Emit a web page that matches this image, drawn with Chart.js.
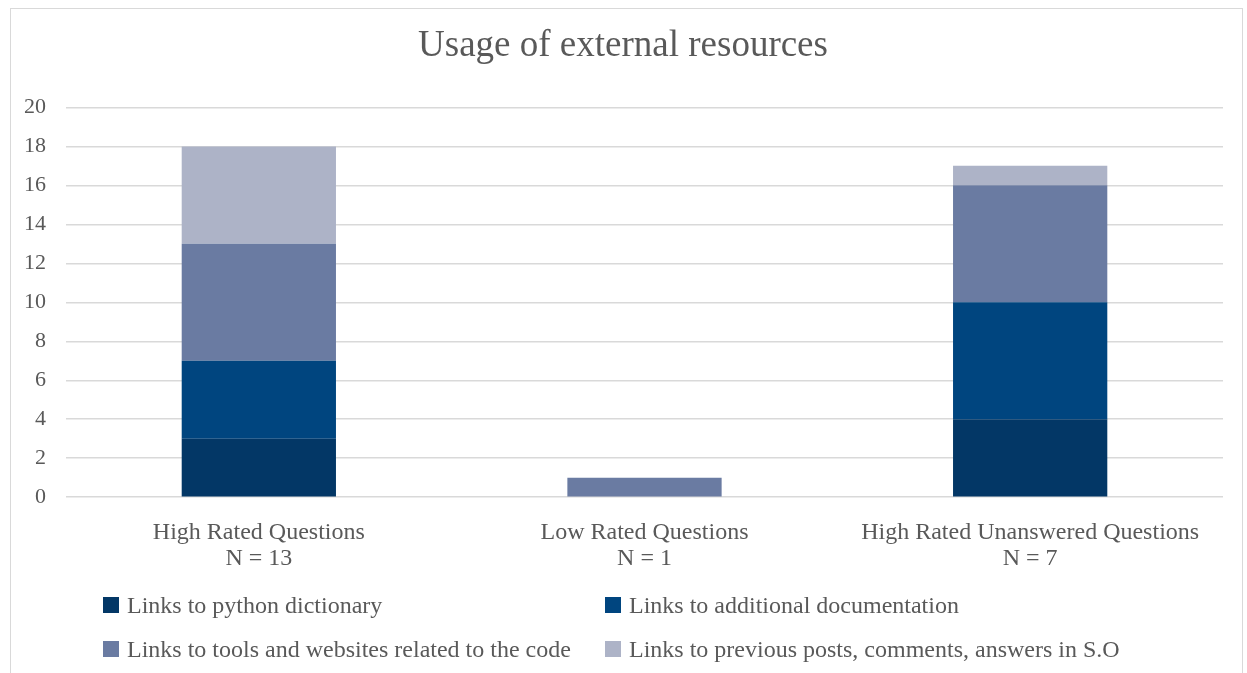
<!DOCTYPE html>
<html lang="en">
<head>
  <meta charset="UTF-8">
  <title>Usage of external resources</title>
  <script src="https://cdn.jsdelivr.net/npm/chart.js"></script>
  <style>
    body {
      margin: 0;
      background: #ffffff;
      font-family: 'Liberation Serif', 'Times New Roman', serif;
    }

    #caixa {
      position: absolute;
      left: 10px;
      top: 8px;
      width: 1233px;
      height: 700px;
      border: 1.5px solid #d9d9d9;
      box-sizing: border-box;
      background: #fff;
    }

    #grafico-wrap {
      position: absolute;
      left: 0;
      top: 0;
      width: 1230px;
      height: 585px;
    }

    #legenda {
      position: absolute;
      left: 92px;
      top: 584px;
      display: grid;
      grid-template-columns: 502px 580px;
      row-gap: 20px;
      font-size: 24px;
      color: #595959;
      white-space: nowrap;
    }

    #legenda div {
      display: flex;
      align-items: center;
      height: 24px;
    }

    #legenda span.caixinha {
      display: inline-block;
      width: 16px;
      height: 16px;
      margin-right: 8px;
    }
  </style>
</head>
<body>
  <div id="caixa">
    <div id="grafico-wrap">
      <canvas id="meuGrafico"></canvas>
    </div>
    <div id="legenda"></div>
  </div>

  <script>
    const categorias = [
      ['High Rated Questions', 'N = 13'],
      ['Low Rated Questions', 'N = 1'],
      ['High Rated Unanswered Questions', 'N = 7']
    ];
    const nomesSeries = [
      'Links to python dictionary',
      'Links to additional documentation',
      'Links to tools and websites related to the code',
      'Links to previous posts, comments, answers in S.O'
    ];
    const pythonDict = [3, 0, 4];
    const docsExtra = [4, 0, 6];
    const ferramentas = [6, 1, 6];
    const postsAnteriores = [5, 0, 1];
    const cores = ['#033766', '#00457f', '#6a7ba2', '#adb3c7'];

    const valores = [pythonDict, docsExtra, ferramentas, postsAnteriores];
    const cinza = '#595959';
    const fonte = "'Liberation Serif', 'Times New Roman', serif";

    let ctx = document.getElementById('meuGrafico').getContext('2d');
    let grafico = new Chart(ctx, {
      type: 'bar',
      data: {
        labels: categorias,
        datasets: valores.map((v, i) => ({
          label: nomesSeries[i],
          data: v,
          backgroundColor: cores[i],
          barPercentage: 0.8,
          categoryPercentage: 0.5
        }))
      },
      options: {
        responsive: true,
        maintainAspectRatio: false,
        animation: false,
        layout: {
          padding: { left: 12, right: 18, top: 0, bottom: 0 }
        },
        scales: {
          x: {
            stacked: true,
            grid: { display: false, drawTicks: false },
            border: { display: false },
            ticks: {
              color: cinza,
              padding: 22,
              font: { family: fonte, size: 24, lineHeight: 1.1 },
              maxRotation: 0
            }
          },
          y: {
            stacked: true,
            min: 0,
            max: 20,
            afterFit: (escala) => { escala.width = 43; },
            ticks: {
              stepSize: 2,
              color: cinza,
              padding: 20,
              font: { family: fonte, size: 22 }
            },
            grid: {
              color: '#d9d9d9',
              lineWidth: 1.5,
              drawTicks: false
            },
            border: { display: false }
          }
        },
        plugins: {
          legend: { display: false },
          tooltip: { enabled: false },
          title: {
            display: true,
            text: 'Usage of external resources',
            color: cinza,
            font: { family: fonte, size: 37, weight: 'normal' },
            padding: { top: 15, bottom: 39 }
          }
        }
      }
    });

    // legenda em duas colunas, montada a partir dos datasets
    const legenda = document.getElementById('legenda');
    grafico.data.datasets.forEach(ds => {
      const item = document.createElement('div');
      const quad = document.createElement('span');
      quad.className = 'caixinha';
      quad.style.background = ds.backgroundColor;
      item.appendChild(quad);
      item.appendChild(document.createTextNode(ds.label));
      legenda.appendChild(item);
    });
  </script>
</body>
</html>
